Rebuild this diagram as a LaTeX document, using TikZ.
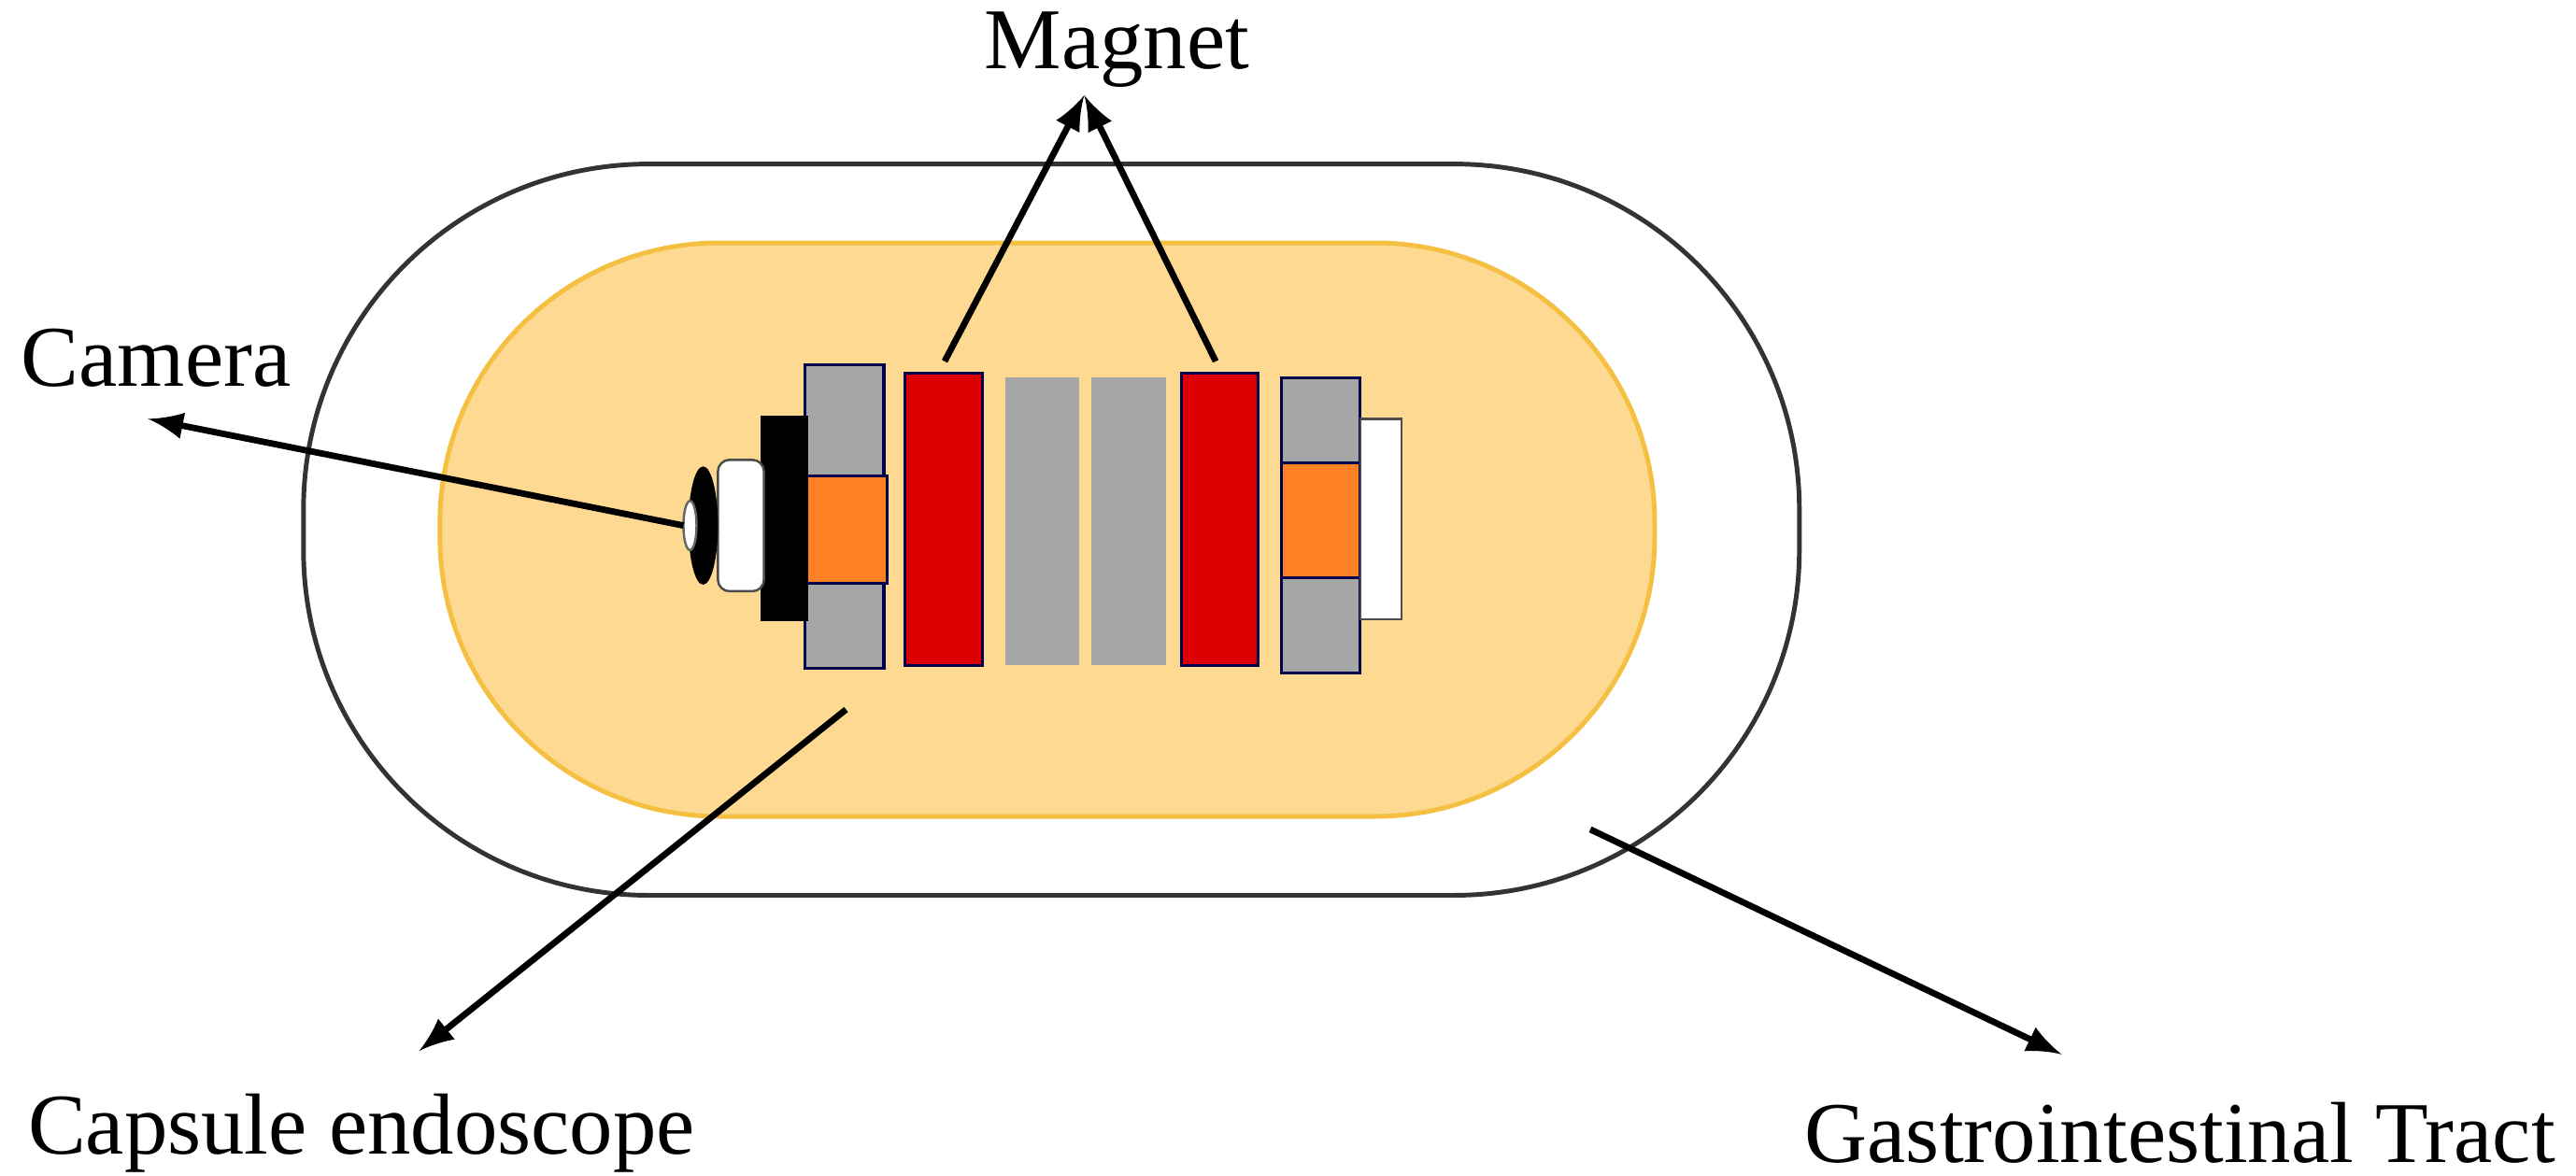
\documentclass[tikz,border=0pt]{standalone}
\usepackage{fontspec}
\setmainfont{Liberation Serif}
\definecolor{capfill}{HTML}{FDD991}
\definecolor{capline}{HTML}{F5C042}
\definecolor{mred}{HTML}{DE0000}
\definecolor{morange}{HTML}{FD8024}
\definecolor{mgray}{HTML}{A6A6A6}
\begin{document}
\begin{tikzpicture}[x=0.01cm,y=-0.01cm,
  lbl/.style={font=\fontsize{15}{18}\selectfont,inner sep=0pt},
  arr/.style={-latex,line width=1.1pt},
  part/.style={draw=black!70!blue,line width=0.5pt}]
\useasboundingbox (0,0) rectangle (1568,716);
\fill[white] (0,0) rectangle (1568,716);
\node[draw=black!80,line width=0.8pt,rounded corners=2.1cm,minimum width=9.1cm,minimum height=4.45cm] (tract) at (640,322.5) {};
\node[draw=capline,fill=capfill,line width=0.8pt,rounded corners=1.7cm,minimum width=7.39cm,minimum height=3.49cm] (caps) at (637.5,322.5) {};
% parts
\draw[part,fill=mgray] (490,222) rectangle (538,407);
\draw[part,fill=morange] (490,290) rectangle (540,355);
\fill[black] (463,253) rectangle (492,378);
\draw[black!70,fill=white,rounded corners=2pt] (437,280) rectangle (465,360);
\fill[black] (428,320) ellipse (9 and 36);
\draw[black!60,fill=white] (420,320) ellipse (4 and 15);
\coordinate (lens) at (416,320);
\draw[part,fill=mred] (551,227) rectangle (598,405);
\fill[mgray] (612,230) rectangle (657,405);
\fill[mgray] (664,230) rectangle (710,405);
\draw[part,fill=mred] (719,227) rectangle (766,405);
\draw[part,fill=mgray] (780,230) rectangle (828,410);
\draw[part,fill=morange] (780,282) rectangle (828,352);
\draw[black!70,fill=white] (828,255) rectangle (853,377);
\coordinate (m1) at (575,220);
\coordinate (m2) at (740,220);
\coordinate (cpt) at (515,432);
\coordinate (gpt) at (968,505);
% labels
\node[lbl] (magnet) at (680,30) {Magnet};
\node[lbl] (camera) at (95,218) {Camera};
\node[lbl] (capsule) at (220,690) {Capsule endoscope};
\node[lbl,anchor=east] (gi) at (1556,690) {Gastrointestinal Tract};
\coordinate (mt) at (660,58);
\draw[arr] (m1) -- (mt);
\draw[arr] (m2) -- (mt);
\draw[arr] (lens) -- (90,255);
\draw[arr] (cpt) -- (255,640);
\draw[arr] (gpt) -- (1255,642);
\end{tikzpicture}
\end{document}
